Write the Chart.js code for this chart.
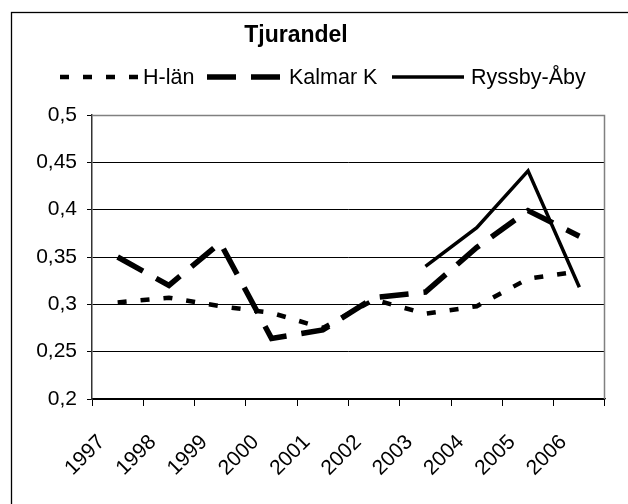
<!DOCTYPE html>
<html>
<head>
<meta charset="utf-8">
<script src="https://cdn.jsdelivr.net/npm/chart.js@4/dist/chart.umd.min.js"></script>
<style>
  html, body { margin: 0; padding: 0; background: #fff; overflow: hidden; }
  #wrap { position: absolute; left: 0; top: 0; width: 628px; height: 504px; }
</style>
</head>
<body>
<div id="wrap"><canvas id="c" width="628" height="504"></canvas></div>
<script>
const chartTitle = 'Tjurandel';
const categories = ['1997','1998','1999','2000','2001','2002','2003','2004','2005','2006'];
const hLan     = [0.302, 0.307, 0.298, 0.291, 0.275, 0.305, 0.290, 0.298, 0.327, 0.335];
const kalmarK  = [0.350, 0.320, 0.365, 0.264, 0.273, 0.307, 0.313, 0.360, 0.399, 0.372];
const ryssby   = [null, null, null, null, null, null, 0.340, 0.381, 0.441, 0.318];
const seriesNames = ['H-län', 'Kalmar K', 'Ryssby-Åby'];
const yTickLabels = ['0,2','0,25','0,3','0,35','0,4','0,45','0,5'];

const FONT = '"Liberation Sans", Arial, sans-serif';

const decor = {
  id: 'decor',
  beforeDraw(chart) {
    const ctx = chart.ctx;
    ctx.save();
    ctx.fillStyle = '#fff';
    ctx.fillRect(0, 0, chart.width, chart.height);
    ctx.restore();
  },
  afterDraw(chart) {
    const ctx = chart.ctx;
    const a = chart.chartArea;
    ctx.save();
    // plot area frame (top + right) in grey
    ctx.strokeStyle = '#808080';
    ctx.lineWidth = 1.5;
    ctx.beginPath();
    ctx.moveTo(a.left, a.top + 0.5);
    ctx.lineTo(a.right - 0.5, a.top + 0.5);
    ctx.lineTo(a.right - 0.5, a.bottom);
    ctx.stroke();
    // outer chart border
    ctx.strokeStyle = '#000';
    ctx.lineWidth = 1.3;
    ctx.strokeRect(11.5, 12.5, 700, 600);
    // title
    ctx.fillStyle = '#000';
    ctx.font = 'bold 23px ' + FONT;
    ctx.textAlign = 'center';
    ctx.textBaseline = 'alphabetic';
    ctx.fillText(chartTitle, 296, 42);
    // legend
    const items = [
      { x: 60,  w: 80, tx: 143 },
      { x: 207, w: 75, tx: 289 },
      { x: 392, w: 72, tx: 471 }
    ];
    ctx.font = '21.5px ' + FONT;
    ctx.textAlign = 'left';
    chart.data.datasets.forEach((ds, i) => {
      const it = items[i];
      ctx.strokeStyle = ds.borderColor;
      ctx.lineWidth = ds.borderWidth;
      ctx.setLineDash(ds.borderDash || []);
      ctx.lineCap = 'butt';
      ctx.beginPath();
      ctx.moveTo(it.x, 77);
      ctx.lineTo(it.x + it.w, 77);
      ctx.stroke();
      ctx.setLineDash([]);
      ctx.fillStyle = '#000';
      ctx.fillText(ds.label, it.tx, 84);
    });
    ctx.restore();
  }
};

new Chart(document.getElementById('c'), {
  type: 'line',
  data: {
    labels: categories,
    datasets: [
      { label: seriesNames[0], data: hLan, borderColor: '#000', borderWidth: 4.5, borderDash: [9, 14], pointRadius: 0, tension: 0, fill: false },
      { label: seriesNames[1], data: kalmarK, borderColor: '#000', borderWidth: 5.5, borderDash: [29, 15], pointRadius: 0, tension: 0, fill: false },
      { label: seriesNames[2], data: ryssby, borderColor: '#000', borderWidth: 3.5, pointRadius: 0, tension: 0, fill: false, spanGaps: false }
    ]
  },
  options: {
    responsive: false,
    animation: false,
    devicePixelRatio: 1,
    layout: { padding: { left: 0, right: 23, top: 115, bottom: 0 } },
    plugins: { legend: { display: false }, title: { display: false }, tooltip: { enabled: false } },
    scales: {
      x: {
        offset: true,
        grid: { offset: true, drawOnChartArea: false, drawTicks: true, tickLength: 7, color: '#000', lineWidth: 1 },
        border: { display: true, color: '#000', width: 1.3 },
        ticks: {
          color: '#000', font: { family: FONT, size: 21 },
          minRotation: 45, maxRotation: 45, autoSkip: false,
          labelOffset: -16, padding: 24
        },
        afterFit(scale) { scale.height = 105; }
      },
      y: {
        min: 0.2, max: 0.5,
        ticks: {
          stepSize: 0.05, color: '#000', font: { family: FONT, size: 21 }, padding: 10,
          callback: (v, i) => yTickLabels[i]
        },
        grid: {
          color: (c) => (c.tick && Math.abs(c.tick.value - 0.5) < 1e-6) ? '#808080' : '#000',
          tickColor: '#000', lineWidth: 1, tickLength: 5, drawTicks: true
        },
        border: { display: true, color: '#333', width: 1.5 },
        afterFit(scale) { scale.width = 92; }
      }
    }
  },
  plugins: [decor]
});
</script>
</body>
</html>
